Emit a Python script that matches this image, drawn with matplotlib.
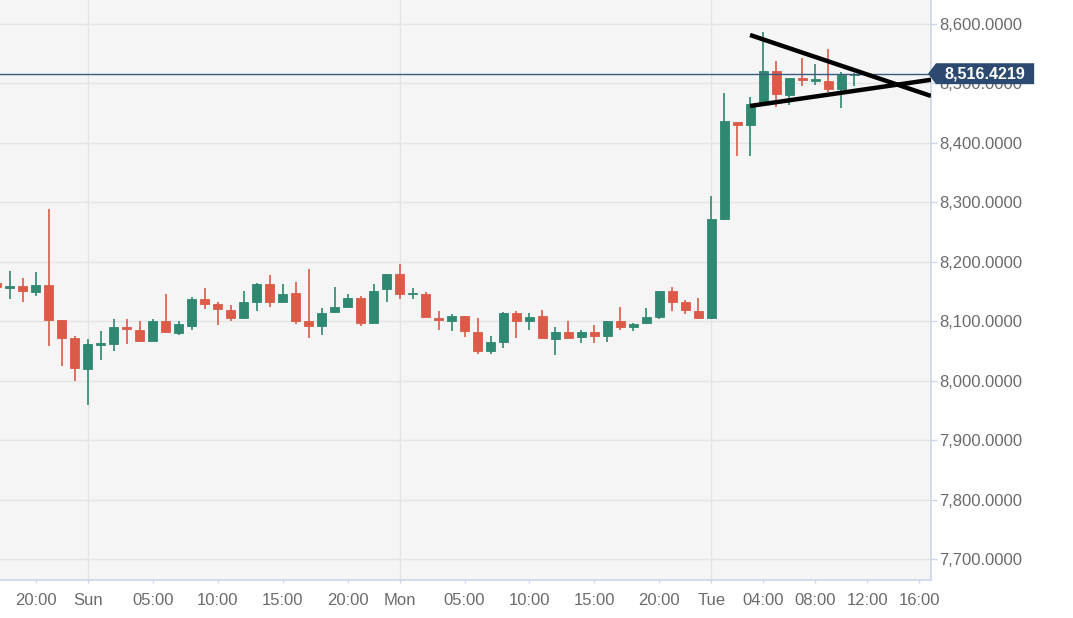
import matplotlib.pyplot as plt
from matplotlib.patches import Polygon
from matplotlib import transforms

plt.rcParams['font.family'] = ['Liberation Sans', 'DejaVu Sans']

# hours since Sunday 00:00, one candle per hour
hours = list(range(-7, 60))
opens = [8165, 8157, 8160, 8150, 8162, 8102, 8073, 8020, 8060, 8062,
         8090, 8086, 8068, 8100, 8080, 8093, 8138, 8129, 8120, 8106,
         8133, 8163, 8132, 8148, 8100, 8093, 8116, 8125, 8140, 8097,
         8154, 8180, 8146, 8147, 8106, 8101, 8109, 8083, 8051, 8066,
         8115, 8100, 8109, 8071, 8082, 8074, 8082, 8076, 8100, 8091,
         8097, 8108, 8152, 8132, 8118, 8106, 8272, 8435, 8430, 8466,
         8521, 8481, 8510, 8505, 8505, 8491, 8514]
highs = [8172, 8185, 8173, 8183, 8289, 8103, 8075, 8071, 8084, 8104,
         8104, 8101, 8104, 8146, 8101, 8141, 8156, 8132, 8127, 8152,
         8165, 8178, 8163, 8167, 8188, 8122, 8158, 8147, 8142, 8163,
         8180, 8196, 8157, 8150, 8118, 8113, 8110, 8106, 8076, 8116,
         8118, 8115, 8119, 8090, 8101, 8086, 8094, 8101, 8124, 8097,
         8122, 8152, 8158, 8136, 8140, 8311, 8484, 8436, 8478, 8586,
         8538, 8510, 8542, 8533, 8558, 8520, 8517]
lows = [8150, 8137, 8132, 8142, 8059, 8025, 8000, 7960, 8035, 8051,
        8062, 8065, 8067, 8082, 8078, 8086, 8121, 8094, 8101, 8105,
        8118, 8124, 8131, 8096, 8073, 8078, 8115, 8124, 8093, 8097,
        8133, 8138, 8137, 8107, 8085, 8084, 8074, 8045, 8045, 8056,
        8073, 8086, 8072, 8044, 8072, 8064, 8064, 8066, 8086, 8084,
        8096, 8104, 8117, 8112, 8105, 8105, 8270, 8378, 8378, 8466,
        8461, 8464, 8495, 8497, 8486, 8459, 8495]
closes = [8158, 8160, 8151, 8161, 8102, 8073, 8021, 8062, 8063, 8090,
          8088, 8068, 8100, 8083, 8095, 8138, 8129, 8121, 8106, 8132,
          8163, 8133, 8146, 8101, 8093, 8115, 8124, 8139, 8098, 8152,
          8180, 8146, 8148, 8108, 8102, 8109, 8084, 8051, 8066, 8115,
          8101, 8107, 8073, 8082, 8073, 8082, 8076, 8100, 8091, 8096,
          8107, 8152, 8132, 8119, 8106, 8272, 8437, 8431, 8465, 8521,
          8482, 8509, 8506, 8508, 8491, 8515, 8516.4219]

last_price = 8516.4219

x_ticks = [-4, 0, 5, 10, 15, 20, 24, 29, 34, 39, 44, 48, 52, 56, 60, 64]
x_labels = ['20:00', 'Sun', '05:00', '10:00', '15:00', '20:00', 'Mon', '05:00',
            '10:00', '15:00', '20:00', 'Tue', '04:00', '08:00', '12:00', '16:00']
day_lines = [0, 24, 48]
y_ticks = [7700, 7800, 7900, 8000, 8100, 8200, 8300, 8400, 8500, 8600]

# hand drawn triangle (hours, price)
upper_line = ([50.98, 64.91], [8581.5, 8479.0])
lower_line = ([50.98, 64.91], [8462.2, 8506.2])

GREEN = '#2e8872'
RED = '#dc5a48'
AXIS_COL = '#ccd6eb'

fig = plt.figure(figsize=(10.73, 6.18), dpi=100)
ax = fig.add_axes([0, 1 - 580 / 618, 931 / 1073, 580 / 618])
ax.set_facecolor('#f5f5f5')

for y in y_ticks:
    ax.axhline(y, color='#e4e4e4', lw=1, zorder=0)
for x in day_lines:
    ax.axvline(x, color='#e4e4e4', lw=1, zorder=0)

colors = [GREEN if c >= o else RED for o, c in zip(opens, closes)]
ax.vlines(hours, lows, highs, colors=colors, lw=1.2, zorder=2)
bottoms = [min(o, c) for o, c in zip(opens, closes)]
heights = [max(abs(c - o), 2.5) for o, c in zip(opens, closes)]
ax.bar(hours, heights, bottom=bottoms, width=0.7, color=colors,
       edgecolor=colors, lw=0.6, zorder=3)

ax.axhline(last_price, color='#3d5a80', lw=1, zorder=4)

ax.plot(*upper_line, color='black', lw=3.2, solid_capstyle='butt', zorder=5)
ax.plot(*lower_line, color='black', lw=3.2, solid_capstyle='butt', zorder=5)

ax.set_xlim(-6.76, 64.91)
ax.set_ylim(7665.5, 8640.3)

ax.set_xticks(x_ticks)
ax.set_xticklabels(x_labels)
ax.set_yticks(y_ticks)
ax.set_yticklabels([f'{v:,.4f}' for v in y_ticks])
ax.yaxis.tick_right()
ax.tick_params(axis='x', length=2.5, width=1, color=AXIS_COL, pad=7,
               labelsize=12, labelcolor='#6b6b6b')
ax.tick_params(axis='y', length=4, width=1, color=AXIS_COL, pad=2,
               labelsize=12, labelcolor='#6b6b6b')
for side in ['top', 'left']:
    ax.spines[side].set_visible(False)
for side in ['bottom', 'right']:
    ax.spines[side].set_color(AXIS_COL)
    ax.spines[side].set_linewidth(1.2)

# last price tag on the right axis (covers the 8,500 label like the original)
tr = transforms.blended_transform_factory(ax.transAxes, ax.transData)
h = 17.6
tag = Polygon([[0.9968, last_price], [1.0054, last_price + h],
               [1.1108, last_price + h], [1.1108, last_price - h],
               [1.0054, last_price - h]],
              closed=True, transform=tr, facecolor='#2c4a70',
              edgecolor='none', clip_on=False, zorder=10)
ax.add_patch(tag)
ax.text(1.0581, last_price, f'{last_price:,.4f}', transform=tr,
        ha='center', va='center', color='white', fontsize=11.6,
        fontweight='bold', clip_on=False, zorder=11)

fig.savefig('out.png', dpi=100, facecolor='white')
